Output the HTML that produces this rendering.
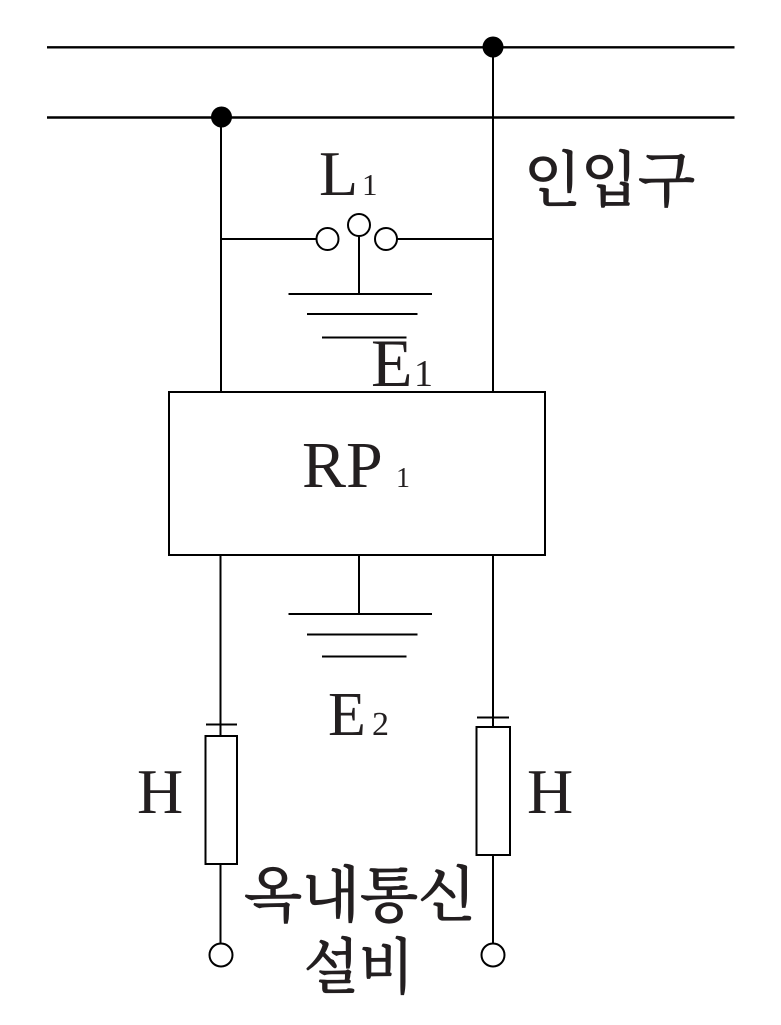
<!DOCTYPE html>
<html>
<head>
<meta charset="utf-8">
<style>
html,body{margin:0;padding:0;background:#fff;}
svg{display:block;}
.lat{font-family:"Liberation Serif",serif;fill:#231f20;}
.kor{font-family:"Noto Serif CJK SC","Noto Serif CJK KR","Noto Serif CJK JP",serif;font-weight:normal;fill:#231f20;stroke:#231f20;stroke-width:1.2;}
</style>
</head>
<body>
<svg width="781" height="1025" viewBox="0 0 781 1025" xmlns="http://www.w3.org/2000/svg">
<g stroke="#000" stroke-width="2.4" fill="none">
  <line x1="47" y1="47.3" x2="734.5" y2="47.3"/>
  <line x1="47" y1="117.5" x2="734.5" y2="117.5"/>
</g>
<g stroke="#000" stroke-width="2" fill="none">
  <line x1="221" y1="117" x2="221" y2="392"/>
  <line x1="493" y1="47" x2="493" y2="392"/>
  <line x1="221" y1="239" x2="316.5" y2="239"/>
  <line x1="397" y1="239" x2="493" y2="239"/>
  <circle cx="327.5" cy="239" r="11"/>
  <circle cx="359" cy="225" r="11"/>
  <circle cx="386" cy="239" r="11"/>
  <line x1="359" y1="236" x2="359" y2="294"/>
  <line x1="288.5" y1="294" x2="432" y2="294"/>
  <line x1="307" y1="314" x2="417.5" y2="314"/>
  <line x1="322" y1="337.5" x2="406.5" y2="337.5"/>
  <rect x="169" y="392" width="376" height="163"/>
  <line x1="220.5" y1="555" x2="220.5" y2="736"/>
  <line x1="493" y1="555" x2="493" y2="727"/>
  <line x1="359" y1="555" x2="359" y2="614"/>
  <line x1="288.5" y1="614" x2="432" y2="614"/>
  <line x1="307" y1="634.5" x2="417.5" y2="634.5"/>
  <line x1="322" y1="656.5" x2="406.5" y2="656.5"/>
  <line x1="206" y1="724.5" x2="237" y2="724.5"/>
  <rect x="205.5" y="736" width="31.5" height="128"/>
  <line x1="220.5" y1="864" x2="220.5" y2="943.5"/>
  <circle cx="221" cy="955" r="11.5"/>
  <line x1="477" y1="717.5" x2="509" y2="717.5"/>
  <rect x="476.5" y="727" width="33.5" height="128"/>
  <line x1="493" y1="855" x2="493" y2="943.5"/>
  <circle cx="493" cy="955" r="11.5"/>
</g>
<circle cx="493" cy="47" r="10.5" fill="#000"/>
<circle cx="221.5" cy="117" r="10.5" fill="#000"/>

<text class="lat" x="319" y="195" font-size="64">L</text>
<text class="lat" x="362" y="195" font-size="31">1</text>
<text class="lat" x="371" y="386" font-size="68">E</text>
<text class="lat" x="414" y="386" font-size="38">1</text>
<text class="lat" x="302" y="487" font-size="66">RP</text>
<text class="lat" x="396" y="487" font-size="28">1</text>
<text class="lat" x="328" y="735" font-size="62">E</text>
<text class="lat" x="372" y="735" font-size="34">2</text>
<text class="lat" x="137" y="813" font-size="64">H</text>
<text class="lat" x="527" y="813" font-size="64">H</text>

<text class="kor" x="524" y="201" font-size="60" textLength="171" lengthAdjust="spacingAndGlyphs">인입구</text>
<text class="kor" x="244" y="916" font-size="60" textLength="232" lengthAdjust="spacingAndGlyphs">옥내통신</text>
<text class="kor" x="304" y="988" font-size="60" textLength="110" lengthAdjust="spacingAndGlyphs">설비</text>
</svg>
</body>
</html>
